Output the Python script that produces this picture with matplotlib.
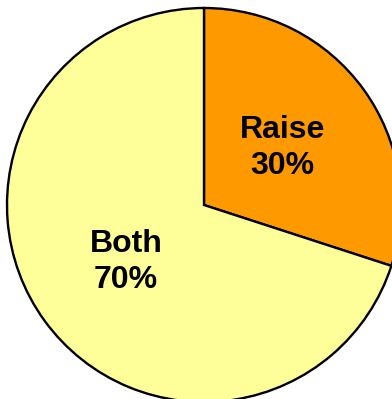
import matplotlib.pyplot as plt

names = ["Raise", "Both"]
shares = [30, 70]
colors = ["#FF9900", "#FFFF99"]

labels = ["%s\n%d%%" % (n, s) for n, s in zip(names, shares)]

fig = plt.figure(figsize=(3.92, 3.99), dpi=100)
ax = fig.add_axes([0, 0, 1, 1])

wedges, texts = ax.pie(shares, labels=labels, colors=colors, startangle=90,
                       counterclock=False, center=(204, 194), radius=197,
                       labeldistance=0.49, frame=True,
                       wedgeprops=dict(edgecolor="black", linewidth=1.7),
                       textprops=dict(fontsize=23, fontweight="bold",
                                      family="Liberation Sans", ha="center",
                                      va="center", linespacing=1.25))
ax.set_xlim(0, 392)
ax.set_ylim(0, 399)
ax.set_aspect("equal")
ax.axis("off")

fig.savefig("out.png", dpi=100)
